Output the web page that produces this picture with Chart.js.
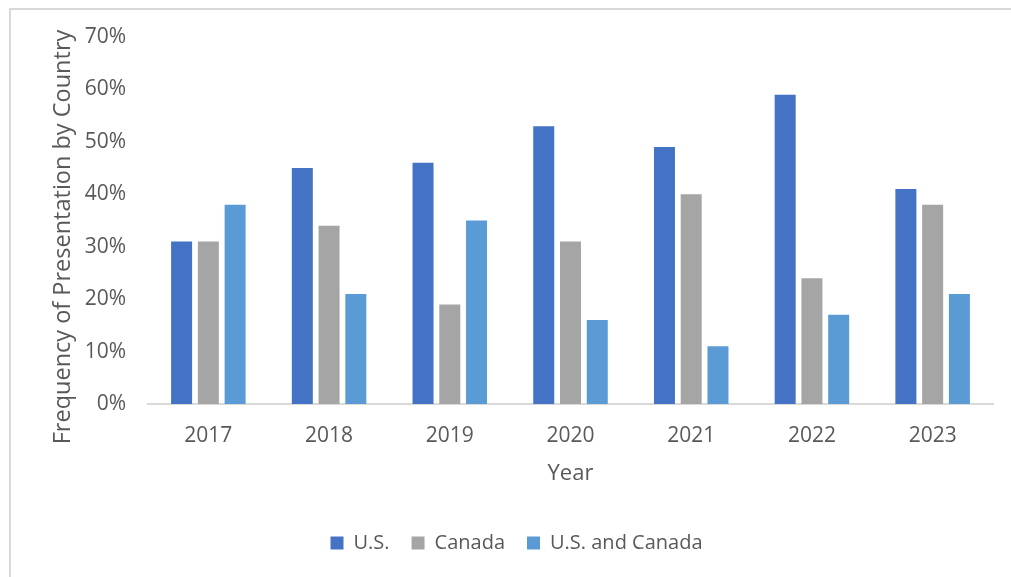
<!DOCTYPE html>
<html>
<head>
<meta charset="utf-8">
<script src="https://cdn.jsdelivr.net/npm/chart.js@4"></script>
<style>
  body { margin: 0; background: #fff; }
</style>
</head>
<body>
<canvas id="presentationChart" width="1011" height="577"></canvas>
<script>
const years = ['2017', '2018', '2019', '2020', '2021', '2022', '2023'];
const usValues = [31, 45, 46, 53, 49, 59, 41];
const canadaValues = [31, 34, 19, 31, 40, 24, 38];
const bothValues = [38, 21, 35, 16, 11, 17, 21];
const yTicks = [0, 10, 20, 30, 40, 50, 60, 70];
const yTitle = 'Frequency of Presentation by Country';

const textColor = '#595959';
const fontFamily = '"Open Sans", sans-serif';

// light frame around the chart, like the Excel chart border
const framePlugin = {
    id: 'frame',
    beforeDraw(chart) {
        const c = chart.ctx;
        c.save();
        c.strokeStyle = '#D9D9D9';
        c.lineWidth = 2;
        c.beginPath();
        c.moveTo(10, chart.height);
        c.lineTo(10, 9);
        c.lineTo(chart.width, 9);
        c.stroke();
        c.restore();
    }
};

// y title sits a bit lower than the plot middle in the original
const yTitlePlugin = {
    id: 'yTitle',
    afterDraw(chart) {
        const c = chart.ctx;
        c.save();
        c.translate(63, 237);
        c.rotate(-Math.PI / 2);
        c.fillStyle = textColor;
        c.font = '23.5px ' + fontFamily;
        c.textAlign = 'center';
        c.textBaseline = 'middle';
        c.fillText(yTitle, 0, 0);
        c.restore();
    }
};

document.addEventListener('DOMContentLoaded', function () {
    const ctx = document.getElementById('presentationChart');
    new Chart(ctx, {
        type: 'bar',
        data: {
            labels: years,
            datasets: [
                {
                    label: 'U.S.',
                    data: usValues,
                    backgroundColor: '#4472C4',
                },
                {
                    label: 'Canada',
                    data: canadaValues,
                    backgroundColor: '#A5A5A5',
                },
                {
                    label: 'U.S. and Canada',
                    data: bothValues,
                    backgroundColor: '#5B9BD5',
                },
            ]
        },
        options: {
            responsive: false,
            animation: false,
            datasets: {
                bar: {
                    categoryPercentage: 0.665,
                    barPercentage: 0.785,
                }
            },
            layout: {
                padding: { left: 40, right: 18, top: 37, bottom: 14 }
            },
            plugins: {
                legend: {
                    position: 'bottom',
                    labels: {
                        boxWidth: 13,
                        boxHeight: 13,
                        padding: 22,
                        color: textColor,
                        font: { family: fontFamily, size: 20 }
                    }
                },
                tooltip: { enabled: false }
            },
            scales: {
                x: {
                    grid: { display: false, drawTicks: false },
                    border: { display: true, color: '#D9D9D9', width: 2 },
                    ticks: {
                        color: textColor,
                        padding: 19,
                        font: { family: fontFamily, size: 21 }
                    },
                    title: {
                        display: true,
                        text: 'Year',
                        color: textColor,
                        padding: { top: 0, bottom: 24 },
                        font: { family: fontFamily, size: 22 }
                    },
                    afterFit: function (scale) { scale.height = 107; }
                },
                y: {
                    min: 0,
                    max: 70,
                    afterBuildTicks: function (scale) {
                        scale.ticks = yTicks.map(v => ({ value: v }));
                    },
                    grid: { display: false, drawTicks: false },
                    border: { display: false },
                    ticks: {
                        color: textColor,
                        padding: 22,
                        font: { family: fontFamily, size: 21 },
                        callback: v => v + '%'
                    },
                    afterFit: function (scale) { scale.width = 108; }
                }
            }
        },
        plugins: [framePlugin, yTitlePlugin]
    });
});
</script>
</body>
</html>
